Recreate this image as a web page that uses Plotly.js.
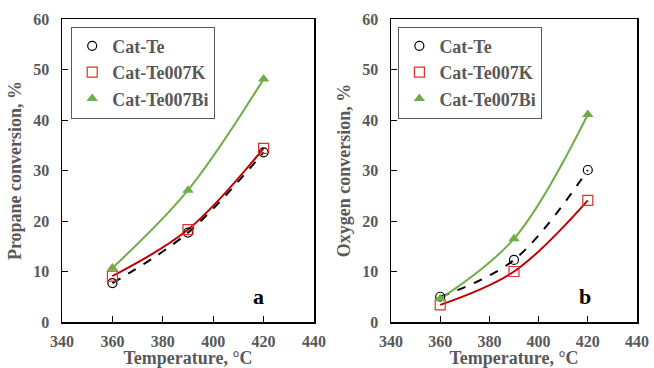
<!DOCTYPE html>
<html><head><meta charset="utf-8">
<script src="https://cdn.plot.ly/plotly-3.0.1.min.js"></script>
<style>html,body{margin:0;padding:0;background:#fff}#chart{width:654px;height:368px}</style>
</head><body><div id="chart"></div>
<script>
const temperature = [360, 390, 420];
const seriesNames = ["Cat-Te", "Cat-Te007K", "Cat-Te007Bi"];
const propaneTe = [7.7, 17.7, 33.6];
const propaneK = [9.1, 18.3, 34.4];
const propaneBi = [10.7, 26.1, 48.1];
const oxygenTe = [5.0, 12.3, 30.1];
const oxygenK = [3.4, 10.0, 24.1];
const oxygenBi = [4.6, 16.5, 41.1];
const xTicks = [340, 360, 380, 400, 420, 440];
const yTicks = [0, 10, 20, 30, 40, 50, 60];

const gray = '#595959';
const serif = '"Liberation Serif", "Times New Roman", serif';
const styles = [
  {marker: {symbol: 'circle-open', size: 9, color: '#000', line: {width: 1.2, color: '#000'}}, line: {color: '#000', width: 2, dash: 'dash', shape: 'spline'}},
  {marker: {symbol: 'square-open', size: 10, color: '#e03030', line: {width: 1.2, color: '#e03030'}}, line: {color: '#c00000', width: 2, shape: 'spline'}},
  {marker: {symbol: 'triangle-up', size: 10, color: '#70ad47'}, line: {color: '#70ad47', width: 2, shape: 'spline'}}
];
function lineTrace(y, i, xa, ya) {
  return {x: temperature, y: y, name: seriesNames[i], mode: 'lines', xaxis: xa, yaxis: ya,
    showlegend: false, line: styles[i].line, hoverinfo: 'skip'};
}
function markTrace(y, i, xa, ya, leg) {
  return {x: temperature, y: y, name: seriesNames[i], mode: 'markers', xaxis: xa, yaxis: ya,
    legend: leg, marker: styles[i].marker};
}
const data = [
  lineTrace(propaneTe, 0, 'x', 'y'), lineTrace(propaneK, 1, 'x', 'y'), lineTrace(propaneBi, 2, 'x', 'y'),
  lineTrace(oxygenTe, 0, 'x2', 'y2'), lineTrace(oxygenK, 1, 'x2', 'y2'), lineTrace(oxygenBi, 2, 'x2', 'y2'),
  markTrace(propaneTe, 0, 'x', 'y', 'legend'), markTrace(propaneK, 1, 'x', 'y', 'legend'), markTrace(propaneBi, 2, 'x', 'y', 'legend'),
  markTrace(oxygenTe, 0, 'x2', 'y2', 'legend2'), markTrace(oxygenK, 1, 'x2', 'y2', 'legend2'), markTrace(oxygenBi, 2, 'x2', 'y2', 'legend2')
];
const tickFont = {family: serif, size: 16, color: gray, weight: 700};
const titleFont = {family: serif, size: 18, color: gray, weight: 700};
function xa(domain, anchor) {
  return {domain: domain, anchor: anchor, range: [340, 440], tickvals: xTicks, ticks: 'inside', ticklen: 6,
    tickcolor: '#000', showline: true, linecolor: '#000', linewidth: 1.5, mirror: true, showgrid: false, zeroline: false,
    tickfont: tickFont, ticklabelstandoff: 4, title: {text: 'Temperature, °C', font: titleFont, standoff: 7}};
}
function ya(anchor, title) {
  return {anchor: anchor, range: [0, 60], tickvals: yTicks, ticks: 'inside', ticklen: 6, tickcolor: '#000',
    showline: true, linecolor: '#000', linewidth: 1.5, mirror: true, showgrid: false, zeroline: false,
    tickfont: tickFont, ticklabelstandoff: 8, title: {text: title, font: titleFont, standoff: 7}};
}
const legFont = {family: serif, size: 18, color: gray, weight: 700};
const layout = {
  width: 654, height: 368, margin: {l: 62, r: 17, t: 19, b: 46},
  paper_bgcolor: '#fff', plot_bgcolor: '#fff', showlegend: true,
  xaxis: xa([0, 0.4383], 'y'), yaxis: ya('x', 'Propane conversion, %'),
  xaxis2: xa([0.5722, 1], 'y2'), yaxis2: ya('x2', 'Oxygen conversion, %'),
  legend: {x: 0.016, y: 0.975, xanchor: 'left', yanchor: 'top', bordercolor: gray, borderwidth: 1, bgcolor: '#fff',
    font: legFont, tracegroupgap: 2, itemwidth: 30},
  legend2: {x: 0.585, y: 0.975, xanchor: 'left', yanchor: 'top', bordercolor: gray, borderwidth: 1, bgcolor: '#fff',
    font: legFont, tracegroupgap: 2, itemwidth: 30},
  annotations: [
    {xref: 'x', yref: 'y', x: 418, y: 5, text: 'a', showarrow: false, font: {family: serif, size: 22, color: '#000', weight: 700}},
    {xref: 'x2', yref: 'y2', x: 419, y: 5, text: 'b', showarrow: false, font: {family: serif, size: 22, color: '#000', weight: 700}}
  ]
};
Plotly.newPlot('chart', data, layout, {displayModeBar: false, staticPlot: true});
</script></body></html>
